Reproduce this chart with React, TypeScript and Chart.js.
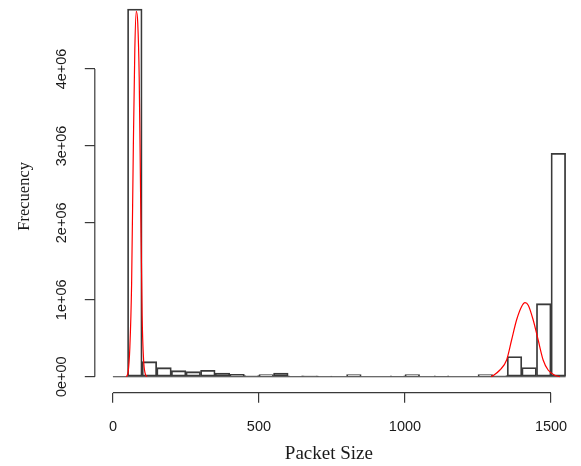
import React, { useEffect, useRef } from 'react';
import { Chart, registerables } from 'chart.js';

Chart.register(...registerables);

// Histogram bins (packet size) and counts
const binEdges = [
  0, 50, 100, 150, 200, 250, 300, 350, 400, 450, 500, 550, 600, 650, 700, 750,
  800, 850, 900, 950, 1000, 1050, 1100, 1150, 1200, 1250, 1300, 1350, 1400, 1450, 1500, 1550,
];
const binCounts = [
  0, 4780000, 195000, 117000, 78000, 65000, 82000, 48000, 30000, 13000, 28000,
  46000, 12000, 10000, 9000, 0, 28000, 0, 0, 12000, 28000, 0, 12000, 0, 0,
  28000, 14000, 262000, 120000, 949000, 2905000,
];

// Fitted density curves (red)
const lowCurveX = [46, 52, 58, 64, 70, 75, 80, 85, 90, 95, 100, 105, 110, 116];
const lowCurveY = [0, 60000, 380000, 1200000, 3000000, 4250000, 4750000, 4600000, 3900000, 2300000, 800000, 220000, 50000, 0];
const highCurveX = [1295, 1302, 1325, 1348, 1365, 1382, 1399, 1411, 1422, 1439, 1456, 1473, 1490, 1513, 1530];
const highCurveY = [0, 15000, 87000, 217000, 477000, 737000, 910000, 962000, 930000, 737000, 477000, 217000, 87000, 20000, 0];

// Axis ticks
const xTickValues = [0, 500, 1000, 1500];
const xTickLabels = ['0', '500', '1000', '1500'];
const yTickValues = [0, 1000000, 2000000, 3000000, 4000000];
const yTickLabels = ['0e+00', '1e+06', '2e+06', '3e+06', '4e+06'];

const AXIS_COLOR = '#3a3a3a';
const TEXT_COLOR = '#1a1a1a';

const rAxesPlugin = {
  id: 'rAxes',
  afterDraw(chart: any) {
    const { ctx, chartArea, scales } = chart;
    const x = scales.x;
    const y = scales.y;
    ctx.save();
    ctx.strokeStyle = AXIS_COLOR;
    ctx.lineWidth = 1.2;
    ctx.beginPath();
    const xt = x.ticks;
    ctx.moveTo(x.getPixelForValue(xt[0].value), chartArea.bottom);
    ctx.lineTo(x.getPixelForValue(xt[xt.length - 1].value), chartArea.bottom);
    const yt = y.ticks;
    ctx.moveTo(chartArea.left, y.getPixelForValue(yt[0].value));
    ctx.lineTo(chartArea.left, y.getPixelForValue(yt[yt.length - 1].value));
    ctx.stroke();
    ctx.restore();
  },
  beforeDatasetsDraw(chart: any) {
    const { ctx, scales } = chart;
    const x = scales.x;
    const y = scales.y;
    ctx.save();
    ctx.strokeStyle = AXIS_COLOR;
    ctx.lineWidth = 1.1;
    ctx.beginPath();
    const y0 = y.getPixelForValue(0);
    ctx.moveTo(x.getPixelForValue(binEdges[0]), y0);
    ctx.lineTo(x.getPixelForValue(binEdges[binEdges.length - 1]), y0);
    ctx.stroke();
    ctx.restore();
  },
};

export default function App() {
  const canvasRef = useRef<HTMLCanvasElement | null>(null);

  useEffect(() => {
    if (!canvasRef.current) return;
    const binData = binCounts.map((c, i) => ({ x: (binEdges[i] + binEdges[i + 1]) / 2, y: c }));
    const lowData = lowCurveX.map((v, i) => ({ x: v, y: lowCurveY[i] }));
    const highData = highCurveX.map((v, i) => ({ x: v, y: highCurveY[i] }));

    const tickFont = { family: '"Liberation Sans", Arial, sans-serif', size: 14.5 };

    const chart = new Chart(canvasRef.current, {
      type: 'bar',
      data: {
        datasets: [
          {
            type: 'bar',
            data: binData as any,
            backgroundColor: 'rgba(255,255,255,0)',
            borderColor: AXIS_COLOR,
            borderWidth: 1.1,
            borderSkipped: false,
            barPercentage: 1,
            categoryPercentage: 1,
            clip: false as any,
            order: 1,
          } as any,
          {
            type: 'line',
            data: lowData as any,
            borderColor: '#ff0000',
            borderWidth: 1.2,
            pointRadius: 0,
            fill: false,
            cubicInterpolationMode: 'monotone',
            order: 0,
          } as any,
          {
            type: 'line',
            data: highData as any,
            borderColor: '#ff0000',
            borderWidth: 1.2,
            pointRadius: 0,
            fill: false,
            cubicInterpolationMode: 'monotone',
            order: 0,
          } as any,
        ],
      },
      options: {
        animation: false,
        responsive: false,
        devicePixelRatio: 1,
        layout: { padding: { left: 0, right: 18, top: 0, bottom: 0 } },
        plugins: {
          legend: { display: false },
          tooltip: { enabled: false },
        },
        events: [],
        scales: {
          x: {
            type: 'linear',
            min: -62,
            max: 1541,
            offset: false,
            afterBuildTicks: (s: any) => {
              s.ticks = xTickValues.map((v) => ({ value: v }));
            },
            afterFit: (s: any) => {
              s.height = 73.3;
              s.paddingLeft = 0;
              s.paddingRight = 0;
              s.paddingTop = 0;
              s.paddingBottom = 0;
            },
            ticks: {
              autoSkip: false,
              minRotation: 0,
              maxRotation: 0,
              padding: 16,
              font: tickFont,
              color: TEXT_COLOR,
              callback: (_v: any, i: number) => xTickLabels[i],
            },
            grid: {
              display: true,
              drawOnChartArea: false,
              drawTicks: true,
              tickLength: 10,
              color: AXIS_COLOR,
              lineWidth: 1.2,
              offset: false,
            },
            border: { display: false },
            title: {
              display: true,
              text: 'Packet Size',
              font: { family: '"Liberation Serif", "Times New Roman", serif', size: 19 },
              color: TEXT_COLOR,
              padding: { top: 0, bottom: 1 },
            },
          } as any,
          y: {
            type: 'linear',
            min: -208000,
            max: 4897000,
            afterBuildTicks: (s: any) => {
              s.ticks = yTickValues.map((v) => ({ value: v }));
            },
            afterFit: (s: any) => {
              s.width = 94.8;
              s.paddingLeft = 0;
              s.paddingRight = 0;
              s.paddingTop = 0;
              s.paddingBottom = 0;
            },
            ticks: {
              autoSkip: false,
              minRotation: 90,
              maxRotation: 90,
              crossAlign: 'center',
              padding: 2,
              font: tickFont,
              color: TEXT_COLOR,
              callback: (_v: any, i: number) => yTickLabels[i],
            },
            grid: {
              display: true,
              drawOnChartArea: false,
              drawTicks: true,
              tickLength: 10,
              color: AXIS_COLOR,
              lineWidth: 1.2,
            },
            border: { display: false },
            title: {
              display: true,
              text: 'Frecuency',
              font: { family: '"Liberation Serif", "Times New Roman", serif', size: 16.5 },
              color: TEXT_COLOR,
              padding: { top: 15, bottom: 0 },
            },
          } as any,
        },
      } as any,
      plugins: [rAxesPlugin],
    });

    return () => {
      chart.destroy();
    };
  }, []);

  return (
    <div style={{ position: 'fixed', left: 0, top: 0, width: 581, height: 466, background: '#ffffff' }}>
      <canvas ref={canvasRef} width={581} height={466} style={{ width: 581, height: 466, display: 'block' }} />
    </div>
  );
}
